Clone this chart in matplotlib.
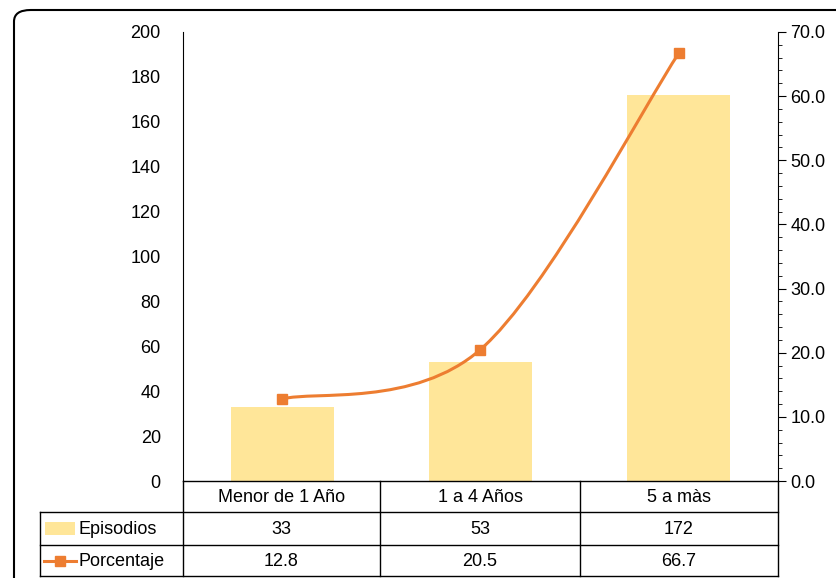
import matplotlib
matplotlib.use("Agg")
import matplotlib.pyplot as plt
from matplotlib.path import Path
from matplotlib.patches import PathPatch, FancyBboxPatch
from matplotlib.lines import Line2D
import numpy as np

categories = ["Menor de 1 Año", "1 a 4 Años", "5 a màs"]
episodios = [33, 53, 172]
porcentaje = [12.8, 20.5, 66.7]
pct_labels = ["12.8", "20.5", "66.7"]
series_names = ["Episodios", "Porcentaje"]

BAR = "#FFE699"
LINE = "#ED7D31"
W, H = 836, 578
FS = 13
fig = plt.figure(figsize=(W/100, H/100), dpi=100)
plt.rcParams['font.family'] = ['Liberation Sans', 'DejaVu Sans']

def fx(x): return x / W
def fy(y): return 1 - y / H

ax = fig.add_axes([fx(183), fy(481), fx(778) - fx(183), fy(32) - fy(481)])
x = np.arange(len(categories))
ax.bar(x, episodios, width=0.52, color=BAR, zorder=1)
ax.set_xlim(-0.5, 2.5)
ax.set_ylim(0, 200)
ax.set_yticks(range(0, 201, 20))
ax.tick_params(axis='y', length=0, labelsize=FS, pad=16)
ax.set_xticks([])
for s in ['top', 'right', 'bottom']:
    ax.spines[s].set_visible(False)
ax.spines['left'].set_color('black')

ax2 = ax.twinx()
ax2.set_ylim(0, 70)
ax2.set_yticks(np.arange(0, 71, 10))
ax2.set_yticklabels([f"{v:.1f}" for v in np.arange(0, 71, 10)])
ax2.set_yticks(np.arange(0, 71, 2), minor=True)
ax2.tick_params(axis='y', which='major', length=6, labelsize=FS, pad=3)
ax2.tick_params(axis='y', which='minor', length=3)
for s in ['top', 'left', 'bottom']:
    ax2.spines[s].set_visible(False)

pts = np.column_stack([x, porcentaje]).astype(float)
P = np.vstack([pts[0], pts, pts[-1]])
verts = [tuple(pts[0])]; codes = [Path.MOVETO]
for i in range(1, len(P) - 2):
    p0, p1, p2, p3 = P[i-1], P[i], P[i+1], P[i+2]
    c1 = p1 + (p2 - p0) / 6
    c2 = p2 - (p3 - p1) / 6
    verts += [tuple(c1), tuple(c2), tuple(p2)]
    codes += [Path.CURVE4] * 3
ax2.add_patch(PathPatch(Path(verts, codes), fill=False, edgecolor=LINE, lw=2.2, zorder=3))
ax2.plot(x, porcentaje, ls='none', marker='s', ms=7, color=LINE, zorder=4)

cols = [183, 380, 580, 778]
def hline(y, x0, x1):
    fig.add_artist(Line2D([fx(x0), fx(x1)], [fy(y), fy(y)], color='black', lw=1))
def vline(xp, y0, y1):
    fig.add_artist(Line2D([fx(xp), fx(xp)], [fy(y0), fy(y1)], color='black', lw=1))
hline(481, 183, 778)
hline(512, 40, 778)
hline(545, 40, 778)
hline(576, 40, 778)
vline(40, 512, 576)
for c in cols:
    vline(c, 481, 576)
for i, cat in enumerate(categories):
    cx = (cols[i] + cols[i+1]) / 2
    fig.text(fx(cx), fy(497), cat, ha='center', va='center', fontsize=FS)
    fig.text(fx(cx), fy(529), str(episodios[i]), ha='center', va='center', fontsize=FS)
    fig.text(fx(cx), fy(561), pct_labels[i], ha='center', va='center', fontsize=FS)
fig.add_artist(FancyBboxPatch((fx(45), fy(535)), fx(30), fy(522) - fy(535),
                              boxstyle='square,pad=0', color=BAR, lw=0))
fig.text(fx(78), fy(529), series_names[0], ha='left', va='center', fontsize=FS)
fig.add_artist(Line2D([fx(44), fx(76)], [fy(561), fy(561)], color=LINE, lw=2.2))
fig.add_artist(Line2D([fx(60)], [fy(561)], marker='s', ms=7, color=LINE))
fig.text(fx(78), fy(561), series_names[1], ha='left', va='center', fontsize=FS)

fig.add_artist(FancyBboxPatch((fx(14), fy(600)), fx(900) - fx(14), fy(10) - fy(600),
                              boxstyle='round,pad=0,rounding_size=0.02',
                              fill=False, edgecolor='black', lw=1.5, clip_on=False))

fig.savefig("out.png", dpi=100)
